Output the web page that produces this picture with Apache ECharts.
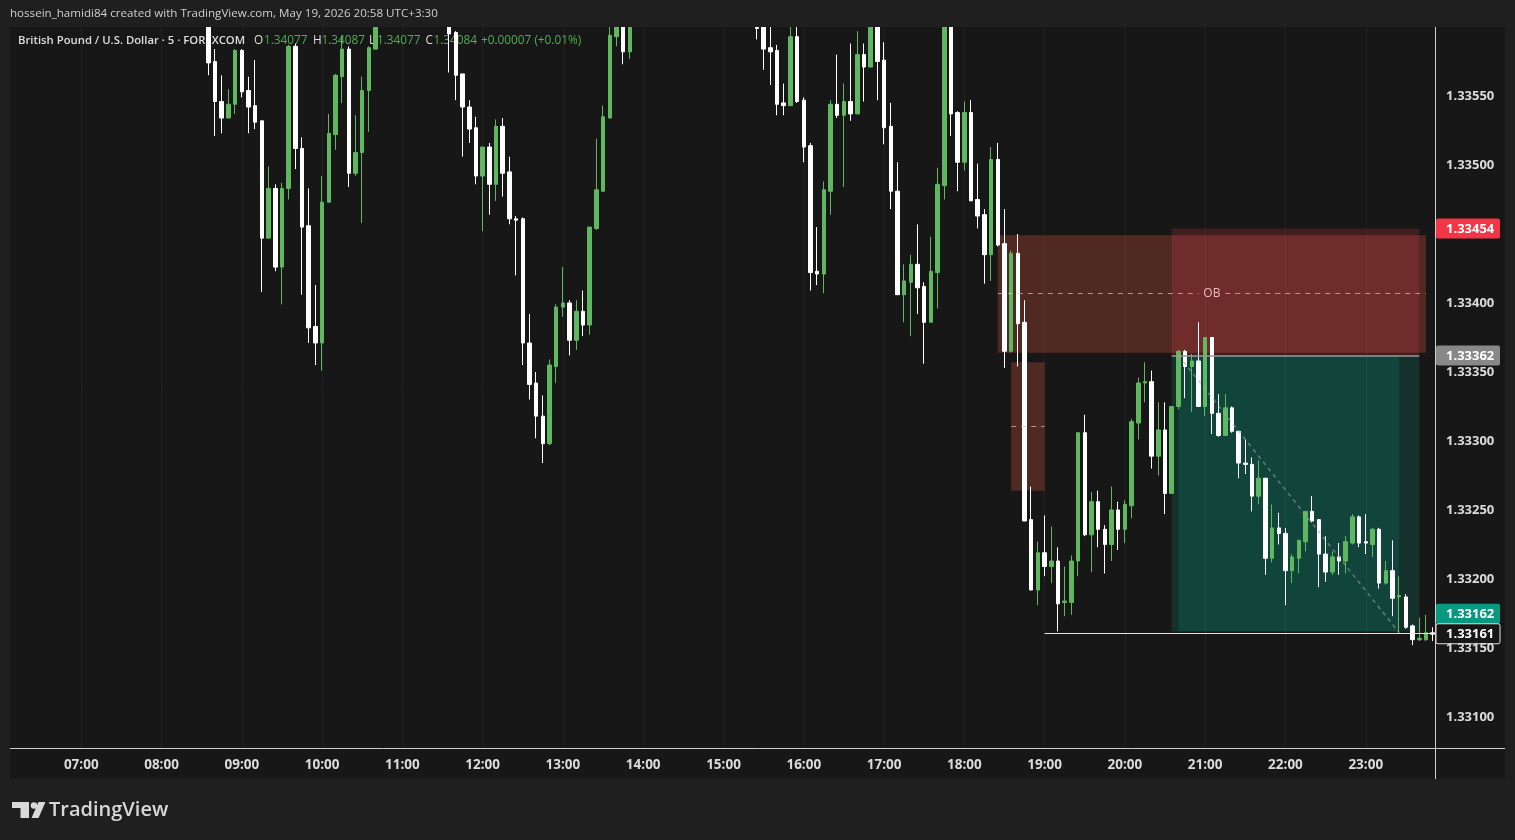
<!DOCTYPE html>
<html><head><meta charset="utf-8">
<script src="https://cdn.jsdelivr.net/npm/echarts@6/dist/echarts.min.js"></script>
<style>
html,body{margin:0;padding:0;background:#1f1f1f;width:1515px;height:840px;overflow:hidden;}
#pane{position:absolute;left:10px;top:27px;width:1495px;height:752px;background:#171717;}
#chart{position:absolute;left:0;top:0;width:1515px;height:840px;}
</style></head><body>
<div id="pane"></div><div id="chart"></div>
<script>
// ---------- DATA ----------
const sessionStart = '06:10';      // first category on the time axis
const barCount = 213;              // 5-minute bars shown
const barMinutes = 5;
const priceTicks = [1.3310, 1.3315, 1.3320, 1.3325, 1.3330, 1.3335, 1.3340, 1.3350, 1.3355];
const gridPrices = [1.3310, 1.3315, 1.3320, 1.3325, 1.3330, 1.3335, 1.3340, 1.3345, 1.3350, 1.3355];
const yMin = 1.330775, yMax = 1.3360;

// candles as [open, high, low, close]
const seg1Start = '08:35';
const seg1 = [
[1.33620,1.33625,1.33565,1.33574],[1.33575,1.33584,1.33521,1.33546],[1.33546,1.33565,1.33523,1.33534],
[1.33534,1.33555,1.33534,1.33544],[1.33544,1.33584,1.33537,1.33583],[1.33583,1.33584,1.33549,1.33553],
[1.33554,1.33564,1.33523,1.33542],[1.33543,1.33576,1.33526,1.33531],[1.33532,1.33532,1.33408,1.33447],
[1.33447,1.33499,1.33447,1.33483],[1.33483,1.33486,1.33423,1.33426],[1.33426,1.33487,1.33399,1.33483],
[1.33483,1.33587,1.33475,1.33586],[1.33586,1.33588,1.33497,1.33512],[1.33512,1.33520,1.33406,1.33455],
[1.33456,1.33483,1.33371,1.33382],[1.33383,1.33413,1.33355,1.33371],[1.33371,1.33492,1.33351,1.33473],
[1.33473,1.33537,1.33473,1.33523],[1.33522,1.33566,1.33511,1.33565],[1.33564,1.33594,1.33545,1.33584],
[1.33584,1.33586,1.33484,1.33494],[1.33494,1.33536,1.33492,1.33509],[1.33509,1.33564,1.33458,1.33554],
[1.33554,1.33586,1.33524,1.33585],[1.33584,1.33620,1.33584,1.33615]
];
const seg2Start = '11:35';
const seg2 = [
[1.33610,1.33615,1.33567,1.33595],[1.33596,1.33597,1.33547,1.33565],[1.33566,1.33566,1.33506,1.33542],
[1.33542,1.33547,1.33516,1.33526],[1.33527,1.33535,1.33486,1.33492],[1.33492,1.33513,1.33452,1.33513],
[1.33513,1.33516,1.33464,1.33486],[1.33486,1.33533,1.33474,1.33528],[1.33528,1.33534,1.33477,1.33494],
[1.33495,1.33506,1.33457,1.33461],[1.33461,1.33463,1.33420,1.33460],[1.33461,1.33462,1.33355,1.33371],
[1.33371,1.33392,1.33330,1.33341],[1.33342,1.33350,1.33302,1.33318],[1.33318,1.33333,1.33284,1.33298],
[1.33298,1.33359,1.33297,1.33355],[1.33354,1.33399,1.33342,1.33397],[1.33397,1.33426,1.33390,1.33400],
[1.33400,1.33402,1.33362,1.33373],[1.33373,1.33402,1.33366,1.33394],[1.33394,1.33409,1.33376,1.33384],
[1.33384,1.33455,1.33377,1.33455],[1.33454,1.33519,1.33453,1.33482],[1.33481,1.33543,1.33481,1.33535],
[1.33534,1.33605,1.33534,1.33594],[1.33593,1.33615,1.33586,1.33612],[1.33612,1.33616,1.33573,1.33582],
[1.33582,1.33612,1.33577,1.33608]
];
const seg3Start = '15:25';
const seg3 = [
[1.33601,1.33610,1.33591,1.33599],[1.33612,1.33618,1.33569,1.33584],[1.33585,1.33605,1.33558,1.33582],
[1.33583,1.33587,1.33536,1.33544],[1.33545,1.33559,1.33536,1.33543],[1.33543,1.33603,1.33543,1.33593],
[1.33593,1.33603,1.33545,1.33546],[1.33547,1.33549,1.33502,1.33513],[1.33514,1.33516,1.33409,1.33422],
[1.33423,1.33455,1.33413,1.33421],[1.33421,1.33488,1.33407,1.33482],[1.33481,1.33547,1.33464,1.33544],
[1.33544,1.33580,1.33534,1.33536],[1.33536,1.33559,1.33484,1.33546],[1.33546,1.33588,1.33532,1.33537],
[1.33537,1.33597,1.33537,1.33580],[1.33580,1.33588,1.33546,1.33571],[1.33571,1.33615,1.33571,1.33610],
[1.33612,1.33618,1.33547,1.33575],[1.33576,1.33589,1.33515,1.33527],[1.33528,1.33545,1.33468,1.33481],
[1.33481,1.33502,1.33406,1.33406],[1.33406,1.33428,1.33386,1.33416],[1.33415,1.33435,1.33376,1.33428],
[1.33428,1.33457,1.33392,1.33411],[1.33412,1.33415,1.33356,1.33386],[1.33386,1.33448,1.33386,1.33423],
[1.33422,1.33498,1.33396,1.33486],[1.33485,1.33615,1.33475,1.33610],[1.33615,1.33620,1.33521,1.33537],
[1.33538,1.33539,1.33481,1.33502],[1.33502,1.33546,1.33496,1.33538],[1.33538,1.33547,1.33474,1.33474],
[1.33475,1.33501,1.33454,1.33463],[1.33464,1.33468,1.33414,1.33435],[1.33435,1.33513,1.33416,1.33504],
[1.33504,1.33516,1.33441,1.33442],[1.33443,1.33468,1.33353,1.33365],[1.33365,1.33438,1.33364,1.33436],
[1.33436,1.33450,1.33354,1.33385],[1.33386,1.33402,1.33242,1.33242],[1.33243,1.33267,1.33192,1.33192],
[1.33192,1.33227,1.33181,1.33219],[1.33219,1.33246,1.33202,1.33209],[1.33209,1.33238,1.33197,1.33213],
[1.33213,1.33223,1.33162,1.33182],[1.33183,1.33209,1.33173,1.33184],[1.33183,1.33217,1.33174,1.33213],
[1.33213,1.33306,1.33202,1.33306],[1.33306,1.33319,1.33231,1.33232],[1.33232,1.33263,1.33205,1.33256],
[1.33256,1.33264,1.33223,1.33236],[1.33236,1.33239,1.33204,1.33225],[1.33225,1.33267,1.33213,1.33250],
[1.33250,1.33256,1.33221,1.33236],[1.33236,1.33257,1.33226,1.33254],[1.33253,1.33316,1.33244,1.33314],
[1.33313,1.33346,1.33301,1.33342],[1.33342,1.33357,1.33328,1.33343],[1.33343,1.33351,1.33280,1.33289],
[1.33289,1.33328,1.33275,1.33308],[1.33308,1.33328,1.33247,1.33262],[1.33262,1.33325,1.33262,1.33325],
[1.33325,1.33366,1.33323,1.33365],[1.33365,1.33366,1.33331,1.33354],[1.33354,1.33363,1.33321,1.33358],
[1.33358,1.33386,1.33325,1.33325],[1.33325,1.33375,1.33318,1.33375],[1.33375,1.33375,1.33305,1.33320],
[1.33320,1.33334,1.33303,1.33304],[1.33304,1.33334,1.33304,1.33324],[1.33324,1.33325,1.33306,1.33307],
[1.33307,1.33307,1.33273,1.33284],[1.33284,1.33301,1.33276,1.33283],[1.33283,1.33288,1.33249,1.33260],
[1.33260,1.33286,1.33254,1.33273],[1.33273,1.33273,1.33203,1.33215],[1.33215,1.33254,1.33212,1.33237],
[1.33237,1.33248,1.33225,1.33233],[1.33233,1.33237,1.33181,1.33206],[1.33206,1.33218,1.33197,1.33216],
[1.33215,1.33228,1.33204,1.33228],[1.33227,1.33249,1.33220,1.33249],[1.33249,1.33260,1.33241,1.33242],
[1.33243,1.33243,1.33194,1.33218],[1.33218,1.33231,1.33198,1.33205],[1.33205,1.33220,1.33203,1.33216],
[1.33216,1.33226,1.33203,1.33213],[1.33213,1.33231,1.33204,1.33227],[1.33226,1.33247,1.33225,1.33245],
[1.33245,1.33246,1.33223,1.33226],[1.33227,1.33247,1.33218,1.33226],[1.33225,1.33237,1.33216,1.33236],
[1.33236,1.33237,1.33193,1.33197],[1.33197,1.33213,1.33196,1.33206],[1.33206,1.33228,1.33173,1.33186],
[1.33187,1.33202,1.33161,1.33188],[1.33187,1.33189,1.33164,1.33165],[1.33166,1.33167,1.33152,1.33156],
[1.33156,1.33172,1.33155,1.33157],[1.33156,1.33174,1.33155,1.33161],[1.33161,1.33165,1.33155,1.33160]
];

// drawings: [startTime, endTime, top, bottom]
const obZone   = ['18:25', '23:45', 1.33449, 1.33364];
const obMid    = 1.33407;
const obLabelTime = '21:05';
const fvgZone  = ['18:35', '19:00', 1.33357, 1.33264];
const fvgMid   = 1.33311;
const stopZone = ['20:35', '23:40', 1.33454, 1.33362];
const targetZone = ['20:35', '23:40', 1.33362, 1.33162];
const targetFill = ['20:40', '23:25', 1.33362, 1.33162];
const entryPrice = 1.33362, stopPrice = 1.33454, targetPrice = 1.33162;
const tradePath = [['20:40', 1.33362], ['23:25', 1.33161]];
const lowLine = ['19:00', '23:50', 1.33161];
const lastPrice = 1.33161;

// ---------- BUILD ----------
function toTime(m){const h=Math.floor(m/60)%24, mm=m%60;return String(h).padStart(2,'0')+':'+String(mm).padStart(2,'0');}
const startMin = parseInt(sessionStart)*60 + parseInt(sessionStart.slice(3));
const times = Array.from({length:barCount},(_,k)=>toTime(startMin+k*barMinutes));
const candleData = times.map(()=>['-','-','-','-']);
function place(start, rows){const k=times.indexOf(start);rows.forEach((r,j)=>{candleData[k+j]=[r[0],r[3],r[2],r[1]];});}
place(seg1Start,seg1);place(seg2Start,seg2);place(seg3Start,seg3);

const GREEN='#5fb85f', WHITE='#ffffff';
const FONT='"Open Sans", "Noto Sans", sans-serif';
const hourLines = times.filter(t=>t.endsWith(':00')).map(t=>({xAxis:t}));
const hLines = gridPrices.map(v=>({yAxis:v}));
const dash = (a,b,color,w,type)=>[{coord:a,lineStyle:{color:color,width:w||1,type:type||[5,5]}},{coord:b}];

const chart = echarts.init(document.getElementById('chart'), null, {renderer:'canvas'});
chart.setOption({
  animation:false,
  backgroundColor:'transparent',
  grid:{left:11,right:79,top:27,bottom:92},
  xAxis:{type:'category',data:times,boundaryGap:true,
    axisLine:{show:false},axisTick:{show:false},splitLine:{show:false},
    axisLabel:{interval:(i,v)=>v.endsWith(':00'),color:'#dcdcdc',fontSize:13.5,fontWeight:'bold',fontFamily:FONT,margin:10}},
  yAxis:{type:'value',position:'right',min:yMin,max:yMax,
    axisLine:{show:false},axisTick:{show:false},splitLine:{show:false},
    axisLabel:{customValues:priceTicks,color:'#dcdcdc',fontSize:13,fontWeight:'bold',fontFamily:FONT,margin:10,
      formatter:v=>v.toFixed(5)}},
  series:[
    {type:'line',z:0,data:[],silent:true,
     markLine:{silent:true,symbol:['none','none'],label:{show:false},
       lineStyle:{color:'rgba(255,255,255,0.045)',width:1,type:'solid'},
       data:hourLines.concat(hLines)}},
    {type:'line',z:1,data:[],silent:true,
     markArea:{silent:true,data:[
       [{coord:[obZone[0],obZone[2]],itemStyle:{color:'rgba(168,70,55,0.4)'}},{coord:[obZone[1],obZone[3]]}],
       [{coord:[fvgZone[0],fvgZone[2]],itemStyle:{color:'rgba(168,70,55,0.4)'}},{coord:[fvgZone[1],fvgZone[3]]}],
       [{coord:[stopZone[0],stopZone[2]],itemStyle:{color:'rgba(242,54,69,0.2)'}},{coord:[stopZone[1],stopZone[3]]}],
       [{coord:[targetZone[0],targetZone[2]],itemStyle:{color:'rgba(8,153,129,0.2)'}},{coord:[targetZone[1],targetZone[3]]}],
       [{coord:[targetFill[0],targetFill[2]],itemStyle:{color:'rgba(8,153,129,0.2)'}},{coord:[targetFill[1],targetFill[3]]}]
     ]},
     markLine:{silent:true,symbol:['none','none'],label:{show:false},data:[
       dash([obZone[0],obMid],['20:55',obMid],'rgba(220,195,190,0.7)'),
       dash(['21:15',obMid],[obZone[1],obMid],'rgba(220,195,190,0.7)'),
       dash([fvgZone[0],fvgMid],[fvgZone[1],fvgMid],'rgba(220,195,190,0.7)'),
       dash([stopZone[0],entryPrice],[stopZone[1],entryPrice],'#9a9a9a',1.5,'solid'),
       dash(tradePath[0],tradePath[1],'rgba(165,165,165,0.55)',1.5,[4,4]),
       dash([lowLine[0],lowLine[2]],[lowLine[1],lowLine[2]],'#e6eca8',1,'solid')
     ]},
     markPoint:{silent:true,data:[{coord:[obLabelTime,obMid],symbol:'rect',symbolSize:1,
       itemStyle:{color:'rgba(0,0,0,0)'},
       label:{show:true,position:'inside',formatter:'OB',color:'#e7bcbc',fontSize:12,fontFamily:FONT}}]}
    },
    {type:'candlestick',z:3,data:candleData,barWidth:4,clip:true,
     itemStyle:{color:GREEN,color0:WHITE,borderColor:GREEN,borderColor0:WHITE,borderWidth:1}}
  ]
});

function tag(value, cy, fill, stroke){
  return {type:'group',x:1436,y:cy-10,z:100,children:[
    {type:'rect',shape:{x:0,y:0,width:64,height:20,r:2},style:{fill:fill,stroke:stroke||null,lineWidth:stroke?1:0}},
    {type:'text',style:{x:10,y:10.5,text:value.toFixed(5),fill:'#ffffff',font:'bold 13px '+FONT,verticalAlign:'middle'}}
  ]};
}
const py = v=>chart.convertToPixel({yAxisIndex:0},v);
const lastY = py(lastPrice)+1;
const txt=(x,y,t,color,font,z)=>({type:'text',z:z||0,style:{x:x,y:y,text:t,fill:color,font:font,verticalAlign:'middle'}});
const LF='11.8px '+FONT, LG='#4caf50', LW='#dedede';
chart.setOption({graphic:[
  // cover for bars running above the pane (clipped like the reference)
  {type:'rect',z:90,shape:{x:0,y:0,width:1515,height:27},style:{fill:'#1f1f1f'}},
  txt(10,14,'hossein_hamidi84 created with TradingView.com, May 19, 2026 20:58 UTC+3:30','#cfcfcf','11.6px '+FONT,95),
  txt(18,41,'British Pound / U.S. Dollar · 5 · FOREXCOM',LW,'600 11.3px '+FONT),
  txt(254,41,'O',LW,LF), txt(264,41,'1.34077',LG,LF),
  txt(313,41,'H',LW,LF), txt(321.5,41,'1.34087',LG,LF),
  txt(369,41,'L',LW,LF), txt(377,41,'1.34077',LG,LF),
  txt(425.5,41,'C',LW,LF), txt(433.5,41,'1.34084',LG,LF),
  txt(481,41,'+0.00007 (+0.01%)',LG,LF),
  {type:'line',z:50,shape:{x1:10,y1:748.5,x2:1505,y2:748.5},style:{stroke:'#cfd0d2',lineWidth:1}},
  {type:'line',z:50,shape:{x1:1435.5,y1:27,x2:1435.5,y2:779},style:{stroke:'#cfd0d2',lineWidth:1}},
  tag(stopPrice, py(stopPrice), '#f23645'),
  tag(entryPrice, py(entryPrice), '#888888'),
  tag(targetPrice, lastY-20, '#089981'),
  tag(lastPrice, lastY, '#171717', '#e6e6e6'),
  // TradingView logo
  {type:'group',z:10,children:[
    {type:'rect',shape:{x:12,y:802,width:17,height:6},style:{fill:'#d8d8d8'}},
    {type:'rect',shape:{x:20.5,y:802,width:8.5,height:16},style:{fill:'#d8d8d8'}},
    {type:'circle',shape:{cx:34,cy:805.5,r:3.3},style:{fill:'#d8d8d8'}},
    {type:'polygon',shape:{points:[[38.5,802],[45.5,802],[38.5,818],[31.5,818]]},style:{fill:'#d8d8d8'}},
    {type:'text',style:{x:49,y:810,text:'TradingView',fill:'#d8d8d8',font:'600 20px '+FONT,verticalAlign:'middle'}}
  ]}
]});
</script>
</body></html>
